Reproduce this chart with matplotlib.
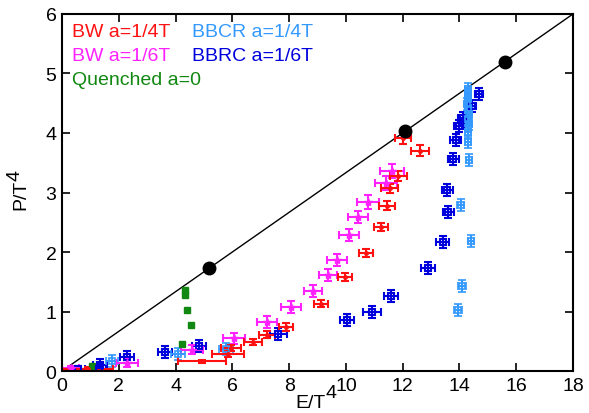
import matplotlib
matplotlib.use("Agg")
import matplotlib.pyplot as plt
import numpy as np

plt.rcParams['font.family'] = ['Liberation Sans', 'DejaVu Sans']

# BW a=1/4T (red)
bw4_e = [0.9, 4.93, 5.85, 5.95, 6.73, 7.22, 7.89, 9.12, 9.97, 10.71, 11.24, 11.45, 11.55, 11.84, 12.01, 12.61]
bw4_p = [0.03, 0.16, 0.29, 0.38, 0.49, 0.61, 0.74, 1.13, 1.58, 1.98, 2.42, 2.78, 3.07, 3.28, 3.92, 3.70]
bw4_ex = [0.9, 0.85, 0.55, 0.35, 0.32, 0.28, 0.25, 0.25, 0.25, 0.25, 0.25, 0.28, 0.3, 0.3, 0.28, 0.31]
bw4_ep = [0.03, 0.03, 0.05, 0.05, 0.05, 0.06, 0.06, 0.06, 0.06, 0.07, 0.07, 0.08, 0.08, 0.08, 0.1, 0.09]

# BW a=1/6T (magenta)
bw6_e = [0.3, 2.29, 4.58, 6.06, 7.22, 8.07, 8.84, 9.37, 9.69, 10.11, 10.43, 10.78, 11.41, 11.62]
bw6_p = [0.05, 0.13, 0.36, 0.55, 0.82, 1.08, 1.35, 1.62, 1.87, 2.28, 2.59, 2.84, 3.16, 3.36]
bw6_ex = [0.3, 0.4, 0.38, 0.38, 0.35, 0.35, 0.33, 0.32, 0.35, 0.35, 0.35, 0.38, 0.38, 0.41]
bw6_ep = [0.03, 0.07, 0.08, 0.09, 0.1, 0.1, 0.1, 0.1, 0.1, 0.1, 0.1, 0.11, 0.11, 0.12]

# BBRC a=1/6T (blue)
bbrc_e = [0.56, 1.3, 1.34, 2.29, 3.63, 4.83, 7.61, 10.04, 10.92, 11.59, 12.89, 13.41, 13.61,
          13.57, 13.78, 13.87, 13.98, 14.13, 14.44, 14.69]
bbrc_p = [0.03, 0.04, 0.1, 0.24, 0.32, 0.42, 0.62, 0.86, 0.99, 1.26, 1.73, 2.17, 2.67,
          3.04, 3.56, 3.88, 4.12, 4.25, 4.45, 4.66]
bbrc_ex = [0.25, 0.25, 0.25, 0.25, 0.25, 0.25, 0.3, 0.25, 0.3, 0.25, 0.25, 0.22, 0.2,
           0.2, 0.2, 0.2, 0.18, 0.18, 0.15, 0.15]
bbrc_ep = [0.06, 0.08, 0.1, 0.1, 0.1, 0.1, 0.1, 0.1, 0.1, 0.1, 0.1, 0.1, 0.1,
           0.1, 0.1, 0.1, 0.1, 0.1, 0.1, 0.1]

# BBCR a=1/4T (light blue)
bbcr_e = [1.76, 4.09, 5.78, 13.95, 14.09, 14.41, 14.05, 14.33, 14.30, 14.30, 14.33, 14.30,
          14.33, 14.30, 14.27, 14.30, 14.30, 14.30]
bbcr_p = [0.17, 0.28, 0.37, 1.03, 1.43, 2.18, 2.79, 3.55, 3.85, 4.02, 4.15, 4.24,
          4.32, 4.40, 4.49, 4.57, 4.66, 4.74]
bbcr_ex = [0.2, 0.25, 0.25, 0.15, 0.15, 0.1, 0.12, 0.1, 0.1, 0.1, 0.1, 0.1,
           0.1, 0.1, 0.1, 0.1, 0.1, 0.1]
bbcr_ep = [0.1, 0.1, 0.1, 0.1, 0.1, 0.1, 0.1, 0.1, 0.1, 0.1, 0.1, 0.1,
           0.1, 0.1, 0.1, 0.1, 0.1, 0.1]

# Quenched a=0 (green)
q_e = [1.06, 4.23, 4.54, 4.40, 4.33, 4.33]
q_p = [0.09, 0.45, 0.77, 1.03, 1.28, 1.36]

# conformal points on P = E/3
conf_e = [5.18, 12.1, 15.6]
conf_p = [e / 3 for e in conf_e]

fig = plt.figure(figsize=(5.89, 4.14), dpi=100)
ax = fig.add_axes([0.1053, 0.1014, 0.8675, 0.8624])

ax.plot([0, 18], [0, 6], color='black', lw=1.0, zorder=1)

eb = dict(ls='none', capsize=3, elinewidth=1.5, capthick=1.5)
ax.errorbar(bbrc_e, bbrc_p, xerr=bbrc_ex, yerr=bbrc_ep, color='#0000dd', marker='s',
            ms=5, mfc='none', mew=1.5, **eb)
ax.errorbar(bbcr_e, bbcr_p, xerr=bbcr_ex, yerr=bbcr_ep, color='#3399ff', marker='s',
            ms=4, mfc='none', mew=1.2, **eb)
ax.errorbar(bw6_e, bw6_p, xerr=bw6_ex, yerr=bw6_ep, color='#ff22ff', marker='*',
            ms=6, **eb)
ax.errorbar(bw4_e, bw4_p, xerr=bw4_ex, yerr=bw4_ep, color='#ff1111', marker='o',
            ms=2.5, **eb)
ax.plot(q_e, q_p, ls='none', marker='s', ms=5, color='#118811')
ax.plot(conf_e, conf_p, ls='none', marker='o', ms=9, color='black', zorder=5)

ax.set_xlim(0, 18)
ax.set_ylim(0, 6)
ax.set_xticks(np.arange(0, 19, 2))
ax.set_yticks(np.arange(0, 7, 1))
ax.tick_params(direction='in', length=6, width=1.2, top=True, right=True,
               labelsize=14, pad=4)
for s in ax.spines.values():
    s.set_linewidth(1.5)

# text legend
lfs = 14
ax.text(0.02, 0.975, 'BW a=1/4T', color='#ff1111', fontsize=lfs, transform=ax.transAxes, va='top')
ax.text(0.255, 0.975, 'BBCR a=1/4T', color='#3399ff', fontsize=lfs, transform=ax.transAxes, va='top')
ax.text(0.02, 0.908, 'BW a=1/6T', color='#ff22ff', fontsize=lfs, transform=ax.transAxes, va='top')
ax.text(0.255, 0.908, 'BBRC a=1/6T', color='#0000dd', fontsize=lfs, transform=ax.transAxes, va='top')
ax.text(0.02, 0.841, 'Quenched a=0', color='#118811', fontsize=lfs, transform=ax.transAxes, va='top')

# axis labels with full-size raised exponent
fig.text(0.553, 0.006, 'E/T', fontsize=14, ha='right', va='bottom')
fig.text(0.553, 0.028, '4', fontsize=14, ha='left', va='bottom')
fig.text(0.036, 0.529, 'P/T', fontsize=14, rotation=90, ha='center', va='center')
fig.text(0.025, 0.575, '4', fontsize=14, rotation=90, ha='center', va='center')

fig.savefig('out.png', dpi=100)
